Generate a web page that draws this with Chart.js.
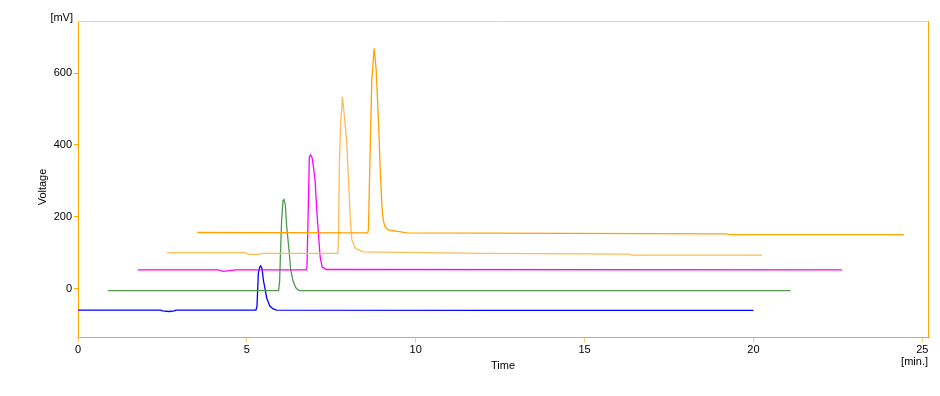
<!DOCTYPE html>
<html>
<head>
<meta charset="utf-8">
<script src="https://cdn.jsdelivr.net/npm/chart.js@4.4.0/dist/chart.umd.min.js"></script>
<style>
  html, body { margin: 0; padding: 0; background: #fff; }
  #wrap { width: 940px; height: 396px; position: relative; }
</style>
</head>
<body>
<div id="wrap"><canvas id="chart"></canvas></div>
<script>
// retention times (min) and detector signal (mV)
const blueTime = [0, 2.45, 2.5, 2.7, 2.85, 2.9, 5.27, 5.30, 5.34, 5.38, 5.41, 5.45, 5.49, 5.59, 5.68, 5.78, 5.88, 12.7, 20.0];
const blueMv   = [-60, -60, -62, -64, -62, -60, -60, -50, 42, 60, 63, 55, 23, -27, -49, -57, -60, -61, -61];

const greenTime = [0.89, 5.94, 5.97, 6.00, 6.03, 6.07, 6.10, 6.14, 6.18, 6.24, 6.30, 6.37, 6.45, 6.55, 21.1];
const greenMv   = [-6, -6, 20, 110, 190, 245, 248, 232, 172, 116, 51, 20, 2, -6, -6];

const magentaTime = [1.77, 4.15, 4.3, 4.67, 6.75, 6.78, 6.82, 6.85, 6.89, 6.93, 6.97, 7.02, 7.07, 7.12, 7.17, 7.23, 7.35, 22.62];
const magentaMv   = [52, 52, 48, 52, 52, 60, 228, 367, 372, 365, 340, 302, 218, 153, 88, 60, 53, 52];

const lightTime = [2.63, 4.95, 5.05, 5.35, 5.45, 7.69, 7.71, 7.74, 7.78, 7.83, 7.89, 7.96, 8.02, 8.06, 8.11, 8.21, 8.45, 12.0, 16.3, 16.4, 20.26];
const lightMv   = [100, 100, 95, 95, 98, 98, 125, 349, 460, 534, 479, 404, 283, 200, 135, 112, 102, 98, 96, 93, 93];

const darkTime = [3.53, 8.58, 8.60, 8.63, 8.67, 8.70, 8.77, 8.83, 8.90, 8.95, 9.00, 9.04, 9.09, 9.19, 9.74, 19.2, 19.3, 24.46];
const darkMv   = [156, 155, 163, 293, 460, 581, 669, 609, 460, 330, 228, 190, 172, 163, 155, 152, 150, 150];

const xTicks = [0, 5, 10, 15, 20, 25];
const yTicks = [0, 200, 400, 600];

const axisColor = '#ffa500';
const lightAxis = '#ffd080';
const font = '11px "Liberation Sans", Arial, sans-serif';

function pts(t, v) {
    return t.map((x, i) => ({ x: x, y: v[i] }));
}

function trace(data, color) {
    return {
        data: data,
        borderColor: color,
        borderWidth: 1.3,
        pointRadius: 0,
        tension: 0,
        fill: false,
    };
}

// frame and axis captions drawn like the original software
const frame = {
    id: 'frame',
    afterDraw(chart) {
        const c = chart.ctx;
        const a = chart.chartArea;
        c.save();
        c.lineWidth = 1;
        c.strokeStyle = lightAxis;
        c.beginPath();
        c.moveTo(a.left, a.top + 0.5);
        c.lineTo(a.right, a.top + 0.5);
        c.stroke();
        c.strokeStyle = axisColor;
        c.beginPath();
        c.moveTo(a.right - 0.5, a.top);
        c.lineTo(a.right - 0.5, a.bottom);
        c.stroke();

        c.fillStyle = '#000';
        c.font = font;
        c.textAlign = 'right';
        c.textBaseline = 'middle';
        c.fillText('[mV]', 73, 18);
        c.fillText('[min.]', 928, 362);
        c.textAlign = 'center';
        c.fillText('Time', 503, 366);
        c.translate(43, 187);
        c.rotate(-Math.PI / 2);
        c.fillText('Voltage', 0, 0);
        c.restore();
    }
};

new Chart(document.getElementById('chart'), {
    type: 'line',
    data: {
        datasets: [
            trace(pts(darkTime, darkMv), '#ffa200'),
            trace(pts(lightTime, lightMv), '#ffbb55'),
            trace(pts(magentaTime, magentaMv), '#ff00ff'),
            trace(pts(greenTime, greenMv), '#4f9a4f'),
            trace(pts(blueTime, blueMv), '#0000ff'),
        ],
    },
    options: {
        responsive: true,
        maintainAspectRatio: false,
        animation: false,
        layout: { padding: { left: 0, top: 21, right: 11, bottom: 0 } },
        plugins: {
            legend: { display: false },
            tooltip: { enabled: false },
        },
        scales: {
            x: {
                type: 'linear',
                min: 0,
                max: 25.2,
                afterFit: (s) => { s.height = 59; },
                afterBuildTicks: (s) => { s.ticks = xTicks.map(v => ({ value: v })); },
                ticks: { color: '#000', font: { family: '"Liberation Sans", Arial, sans-serif', size: 11 }, padding: 0, maxRotation: 0 },
                grid: { drawOnChartArea: false, tickLength: 6, tickColor: lightAxis },
                border: { color: axisColor, width: 1 },
            },
            y: {
                type: 'linear',
                min: -135,
                max: 745,
                afterFit: (s) => { s.width = 78; },
                afterBuildTicks: (s) => { s.ticks = yTicks.map(v => ({ value: v })); },
                ticks: { color: '#000', font: { family: '"Liberation Sans", Arial, sans-serif', size: 11 }, padding: 2 },
                grid: { drawOnChartArea: false, tickLength: 4, tickColor: axisColor },
                border: { color: axisColor, width: 1 },
            },
        },
    },
    plugins: [frame],
});
</script>
</body>
</html>
